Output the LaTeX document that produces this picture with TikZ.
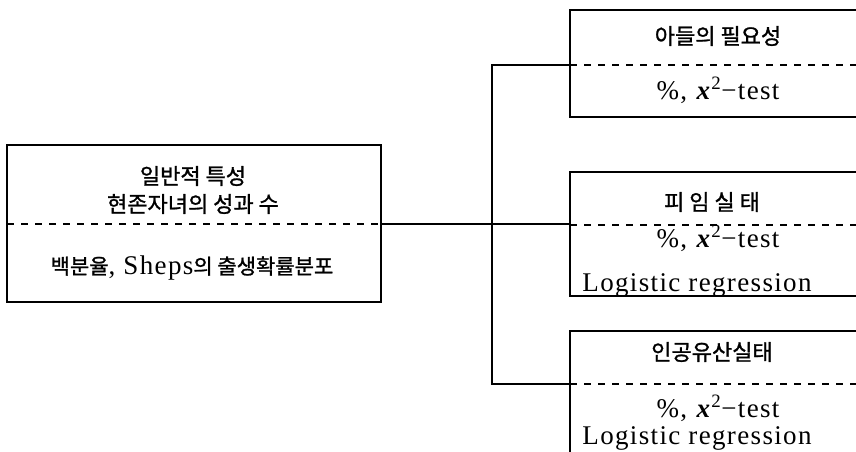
\documentclass[tikz,border=0pt]{standalone}
\usepackage{fontspec}
\setmainfont{Liberation Serif}[LetterSpace=5]
\newfontfamily\kr{Noto Sans CJK KR}[FakeBold=1.2]
\begin{document}
\begin{tikzpicture}[x=1pt,y=-1pt,
  box/.style={draw, line width=2.5pt, inner sep=0, outer sep=0},
  sepline/.style={line width=2.4pt, dash pattern=on 7pt off 7pt},
  wire/.style={line width=2.2pt},
  kt/.style={font=\kr\fontsize{22}{26}\selectfont, inner sep=0, anchor=center},
  lt/.style={font=\fontsize{27}{32}\selectfont, inner sep=0, anchor=base}]
\useasboundingbox (0,0) rectangle (856,451);
\clip (0,0) rectangle (856,451);
% boxes
\node[box, minimum width=374pt, minimum height=157pt] (L) at (194,223.5) {};
\node[box, minimum width=292pt, minimum height=107pt] (T) at (716,63.5) {};
\node[box, minimum width=292pt, minimum height=124pt] (M) at (716,234) {};
\node[box, minimum width=292pt, minimum height=139pt] (B) at (716,400.5) {};
% dashed separators
\draw[sepline] (L.west |- 0,224) -- (L.east |- 0,224);
\draw[sepline] (T.west |- 0,65) -- (T.east |- 0,65);
\draw[sepline] (M.west |- 0,225) -- (M.east |- 0,225);
\draw[sepline] (B.west |- 0,384) -- (B.east |- 0,384);
% connectors
\coordinate (J1) at (492,65);
\coordinate (J2) at (492,224);
\coordinate (J3) at (492,384);
\draw[wire] (L.east |- J2) -- (M.west |- J2);
\draw[wire] (T.west |- J1) -- (J1) -- (J3) -- (B.west |- J3);
% texts left
\node[kt] (l1) at (193,176) {일반적 특성};
\node[kt] (l2) at (193,204) {현존자녀의 성과 수};
\node[lt] (l3) at (192,274) {{\kr\fontsize{21}{25}\selectfont 백분율}, Sheps{\kr\fontsize{21}{25}\selectfont 의 출생확률분포}};
% texts top
\node[kt] (t1) at (718,36) {아들의 필요성};
\node[lt] (t2) at (718,99) {\%, \textbf{\textit{x}}\textsuperscript{2}−test};
% texts middle
\node[kt] (m1) at (712,202) {피 임 실 태};
\node[lt] (m2) at (718,247) {\%, \textbf{\textit{x}}\textsuperscript{2}−test};
\node[lt] (m3) at (697,291) {Logistic regression};
% texts bottom
\node[kt] (b1) at (712,352) {인공유산실태};
\node[lt] (b2) at (718,417) {\%, \textbf{\textit{x}}\textsuperscript{2}−test};
\node[lt] (b3) at (697,444.5) {Logistic regression};
\end{tikzpicture}
\end{document}
